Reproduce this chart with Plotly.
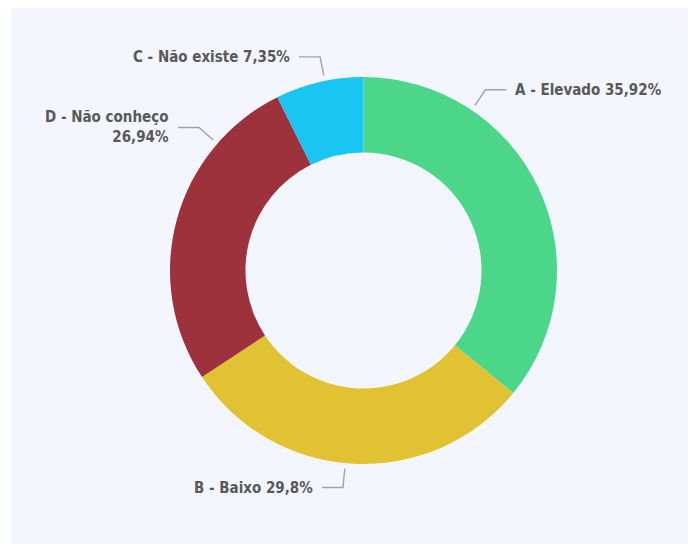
import math
import plotly.graph_objects as go

# données
categorias = ["A - Elevado", "B - Baixo", "D - Não conheço", "C - Não existe"]
percentuais = [35.92, 29.8, 26.94, 7.35]
rotulos = ["35,92%", "29,8%", "26,94%", "7,35%"]
cores = ["#4BD68A", "#E0C232", "#9E323C", "#18C5F3"]

OFF = 8  # marge par défaut du <body>
W, H = 696 - OFF, 544 - OFF
cx, cy, R = 363.5 - OFF, 270.5 - OFF, 193.5  # centre et rayon du donut (pixels)

fig = go.Figure(go.Pie(
    labels=categorias, values=percentuais, sort=False, direction="clockwise",
    rotation=0, hole=0.61, textinfo="none", hoverinfo="label+percent",
    marker=dict(colors=cores, line=dict(width=0)),
    domain=dict(x=[(cx - R) / W, (cx + R) / W], y=[(H - cy - R) / H, (H - cy + R) / H]),
    showlegend=False,
))

def px2paper(x, y):
    return x / W, 1 - y / H

# angle (degrés depuis le haut, sens horaire) des lignes de rappel et côté du texte
rappel = {
    "A - Elevado": (34.0, "right"),
    "B - Baixo": (185.4, "left"),
    "D - Não conheço": (-49.0, "left"),
    "C - Não existe": (-11.5, "left"),
}
r0, r1, horiz = 199, 218, 21

shapes = [dict(type="rect", xref="paper", yref="paper", x0=(11 - OFF) / W, x1=1.01, y0=-0.01, y1=1.01,
               fillcolor="#F3F6FE", line=dict(width=0), layer="below")]
annotations = []
for cat, txt in zip(categorias, rotulos):
    ang, side = rappel[cat]
    a = math.radians(ang)
    x0, y0 = cx + r0 * math.sin(a), cy - r0 * math.cos(a)
    xe, ye = cx + r1 * math.sin(a), cy - r1 * math.cos(a)
    xh = xe + (horiz if side == "right" else -horiz)
    pts = [px2paper(x0, y0), px2paper(xe, ye), px2paper(xh, ye)]
    path = "M {} {} L {} {} L {} {}".format(*[v for p in pts for v in p])
    shapes.append(dict(type="path", xref="paper", yref="paper", path=path,
                       line=dict(color="#A3A3A3", width=1.4)))
    if cat == "D - Não conheço":
        texte = cat + "<br>" + txt
    else:
        texte = cat + " " + txt
    tx = xh + (7 if side == "right" else -7)
    xa, ya = px2paper(tx, ye)
    annotations.append(dict(x=xa, y=ya, xref="paper", yref="paper", text="<b>" + texte + "</b>",
                            showarrow=False, align="left" if side == "right" else "right",
                            xanchor="left" if side == "right" else "right", yanchor="middle",
                            font=dict(family="DejaVu Sans Condensed, DejaVu Sans", size=15, color="#595959")))

fig.update_layout(
    width=W, height=H, margin=dict(l=0, r=0, t=0, b=0),
    paper_bgcolor="white", plot_bgcolor="white",
    shapes=shapes, annotations=annotations,
)
fig.write_html("out.html")
